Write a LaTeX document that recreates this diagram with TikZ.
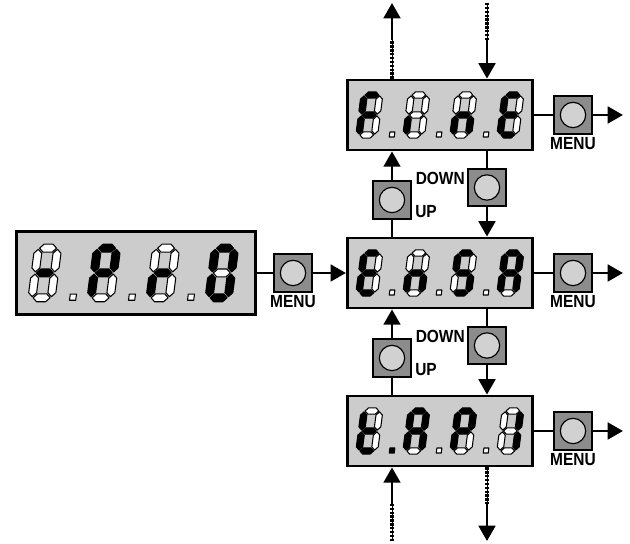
\documentclass[tikz,border=0pt]{standalone}
\usepackage{fontspec}
\newfontfamily\keyfont[FakeStretch=0.88]{Liberation Sans}
\definecolor{lcdgray}{gray}{0.80}
\definecolor{keygray}{gray}{0.55}
\definecolor{capgray}{gray}{0.82}
\usepackage{xcolor}
\usepackage{tikz}
\usetikzlibrary{arrows.meta,positioning}
\tikzset{
  disp/.style={draw,fill=lcdgray,line width=2.4pt,minimum width=5.56cm,minimum height=2.1cm,inner sep=0pt},
  keybtn/.style={draw,fill=keygray,line width=1.5pt,minimum size=1.13cm,inner sep=0pt,
    path picture={\draw[fill=capgray,line width=1pt] (path picture bounding box.center) circle (0.38cm);}},
  lbl/.style={font=\keyfont\bfseries\fontsize{15}{15}\selectfont,inner sep=0pt},
  conn/.style={line width=2.4pt},
  arr/.style={line width=2.4pt,-{Triangle[length=0.46cm,width=0.5cm]}},
  dotln/.style={line width=2.8pt,dash pattern=on 2pt off 1.3pt,
    postaction={draw,solid,line width=0.7pt}},
  seg/.style={draw=black,line width=0.9pt,line join=round},
}
% segment o'lchamlari
\def\sgW{15.5}\def\sgH{20}\def\sgh{3.2}\def\sgG{0.9}
\newcommand{\hseg}[2]{%
  \filldraw[seg,fill=#1] (\sgG,{#2*\sgH}) -- ++(\sgh,\sgh) -- ({\sgW-\sgG-\sgh},{#2*\sgH+\sgh})
    -- ({\sgW-\sgG},{#2*\sgH}) -- ({\sgW-\sgG-\sgh},{#2*\sgH-\sgh}) -- ({\sgG+\sgh},{#2*\sgH-\sgh}) -- cycle;}
\newcommand{\vseg}[3]{%
  \filldraw[seg,fill=#1] ({#2*\sgW},{#3*\sgH+\sgG}) -- ++(\sgh,\sgh) -- ({#2*\sgW+\sgh},{(#3+1)*\sgH-\sgG-\sgh})
    -- ({#2*\sgW},{(#3+1)*\sgH-\sgG}) -- ({#2*\sgW-\sgh},{(#3+1)*\sgH-\sgG-\sgh}) -- ({#2*\sgW-\sgh},{#3*\sgH+\sgG+\sgh}) -- cycle;}
\newcommand{\segdigit}[5]{%
  \begin{scope}[shift={(#1,#2)},xslant=0.13,scale=#3]
    \foreach \f [count=\i] in {#4}{%
      \ifnum\f=1 \def\sfc{black}\else\def\sfc{white}\fi
      \ifcase\i\or\hseg{\sfc}{2}\or\vseg{\sfc}{1}{1}\or\vseg{\sfc}{1}{0}\or
        \hseg{\sfc}{0}\or\vseg{\sfc}{0}{0}\or\vseg{\sfc}{0}{1}\or\hseg{\sfc}{1}\fi}
    \ifcase#5\or\filldraw[seg,fill=white] (30.5,-2) rectangle (35.5,3);%
    \or\filldraw[seg,fill=black] (30.5,-2) rectangle (35.5,3);\fi
  \end{scope}}

\begin{document}
\begin{tikzpicture}[x=0.03cm,y=0.03cm]
  \useasboundingbox (0,0) rectangle (630,544);
  % displeylar
  \node[disp,minimum width=7.17cm,minimum height=2.49cm] (prog) at (136,271) {};
  \node[disp] (fine) at (440,429) {};
  \node[disp] (ensa) at (440,271) {};
  \node[disp] (tap) at (440,113) {};
  % tugmalar
  \node[keybtn] (menuL) at (293,271) {};
  \node[keybtn] (menuT) at (573,429) {};
  \node[keybtn] (menuM) at (573,271) {};
  \node[keybtn] (menuB) at (573,113) {};
  \node[keybtn] (upA) at (392,344) {};
  \node[keybtn] (dnA) at (487,356.5) {};
  \node[keybtn] (upB) at (392,186) {};
  \node[keybtn] (dnB) at (487,198.5) {};
  \node[lbl,below=2pt of menuL] (menuLtxt) {MENU};
  \node[lbl,below=2pt of menuT] (menuTtxt) {MENU};
  \node[lbl,below=2pt of menuM] (menuMtxt) {MENU};
  \node[lbl,below=2pt of menuB] (menuBtxt) {MENU};
  \node[lbl,anchor=north east] (dnAtxt) at ([xshift=-0.07cm,yshift=-0.12cm]dnA.north west) {DOWN};
  \node[lbl,anchor=south west] (upAtxt) at ([xshift=0.1cm,yshift=0.05cm]upA.south east) {UP};
  \node[lbl,anchor=north east] (dnBtxt) at ([xshift=-0.07cm,yshift=-0.12cm]dnB.north west) {DOWN};
  \node[lbl,anchor=south west] (upBtxt) at ([xshift=0.1cm,yshift=0.05cm]upB.south east) {UP};
  % MENU strelkalari
  \coordinate (outT) at (623,429);
  \coordinate (outM) at (623,271);
  \coordinate (outB) at (623,113);
  \draw[conn] (prog) -- (menuL);
  \draw[arr] (menuL) -- (ensa);
  \draw[conn] (fine) -- (menuT);
  \draw[arr] (menuT) -- (outT);
  \draw[conn] (ensa) -- (menuM);
  \draw[arr] (menuM) -- (outM);
  \draw[conn] (tap) -- (menuB);
  \draw[arr] (menuB) -- (outB);
  % UP / DOWN strelkalari
  \draw[conn] (ensa.north -| upA) -- (upA);
  \draw[arr] (upA) -- (fine.south -| upA);
  \draw[conn] (fine.south -| dnA) -- (dnA);
  \draw[arr] (dnA) -- (ensa.north -| dnA);
  \draw[conn] (tap.north -| upB) -- (upB);
  \draw[arr] (upB) -- (ensa.south -| upB);
  \draw[conn] (ensa.south -| dnB) -- (dnB);
  \draw[arr] (dnB) -- (tap.north -| dnB);
  % yuqori va pastki uzilgan strelkalar
  \coordinate (upTmid) at (392,504);
  \coordinate (upTend) at (392,541);
  \coordinate (dnTbeg) at (487,541);
  \coordinate (dnTmid) at (487,504);
  \draw[dotln] (fine.north -| upTmid) -- (upTmid);
  \draw[arr] (upTmid) -- (upTend);
  \draw[dotln] (dnTbeg) -- (dnTmid);
  \draw[arr] (dnTmid) -- (fine.north -| dnTmid);
  \coordinate (upBbeg) at (392,3);
  \coordinate (upBmid) at (392,40);
  \coordinate (dnBmid) at (487,40);
  \coordinate (dnBend) at (487,3);
  \draw[dotln] (upBbeg) -- (upBmid);
  \draw[arr] (upBmid) -- (tap.south -| upBmid);
  \draw[dotln] (tap.south -| dnBmid) -- (dnBmid);
  \draw[arr] (dnBmid) -- (dnBend);
  % raqamlar: -.P.r.0
  \segdigit{32}{246.2}{1.24}{0,0,0,0,0,0,1}{1}
  \segdigit{91}{246.2}{1.24}{1,1,0,0,1,1,1}{1}
  \segdigit{150}{246.2}{1.24}{0,0,0,0,1,0,1}{1}
  \segdigit{209}{246.2}{1.24}{1,1,1,1,1,1,0}{0}
  % F.i.n.E
  \segdigit{359}{409}{1}{1,0,0,0,1,1,1}{1}
  \segdigit{406}{409}{1}{0,0,0,0,1,0,0}{1}
  \segdigit{453}{409}{1}{0,0,1,0,1,0,1}{1}
  \segdigit{500}{409}{1}{1,0,0,1,1,1,1}{0}
  % E.n.S.A
  \segdigit{359}{251}{1}{1,0,0,1,1,1,1}{1}
  \segdigit{406}{251}{1}{0,0,1,0,1,0,1}{1}
  \segdigit{453}{251}{1}{1,0,1,1,0,1,1}{1}
  \segdigit{500}{251}{1}{1,1,1,0,1,1,1}{0}
  % t.A.P.1
  \segdigit{359}{93}{1}{0,0,0,1,1,1,1}{2}
  \segdigit{406}{93}{1}{1,1,1,0,1,1,1}{1}
  \segdigit{453}{93}{1}{1,1,0,0,1,1,1}{1}
  \segdigit{500}{93}{1}{0,1,1,0,0,0,0}{0}
\end{tikzpicture}
\end{document}
